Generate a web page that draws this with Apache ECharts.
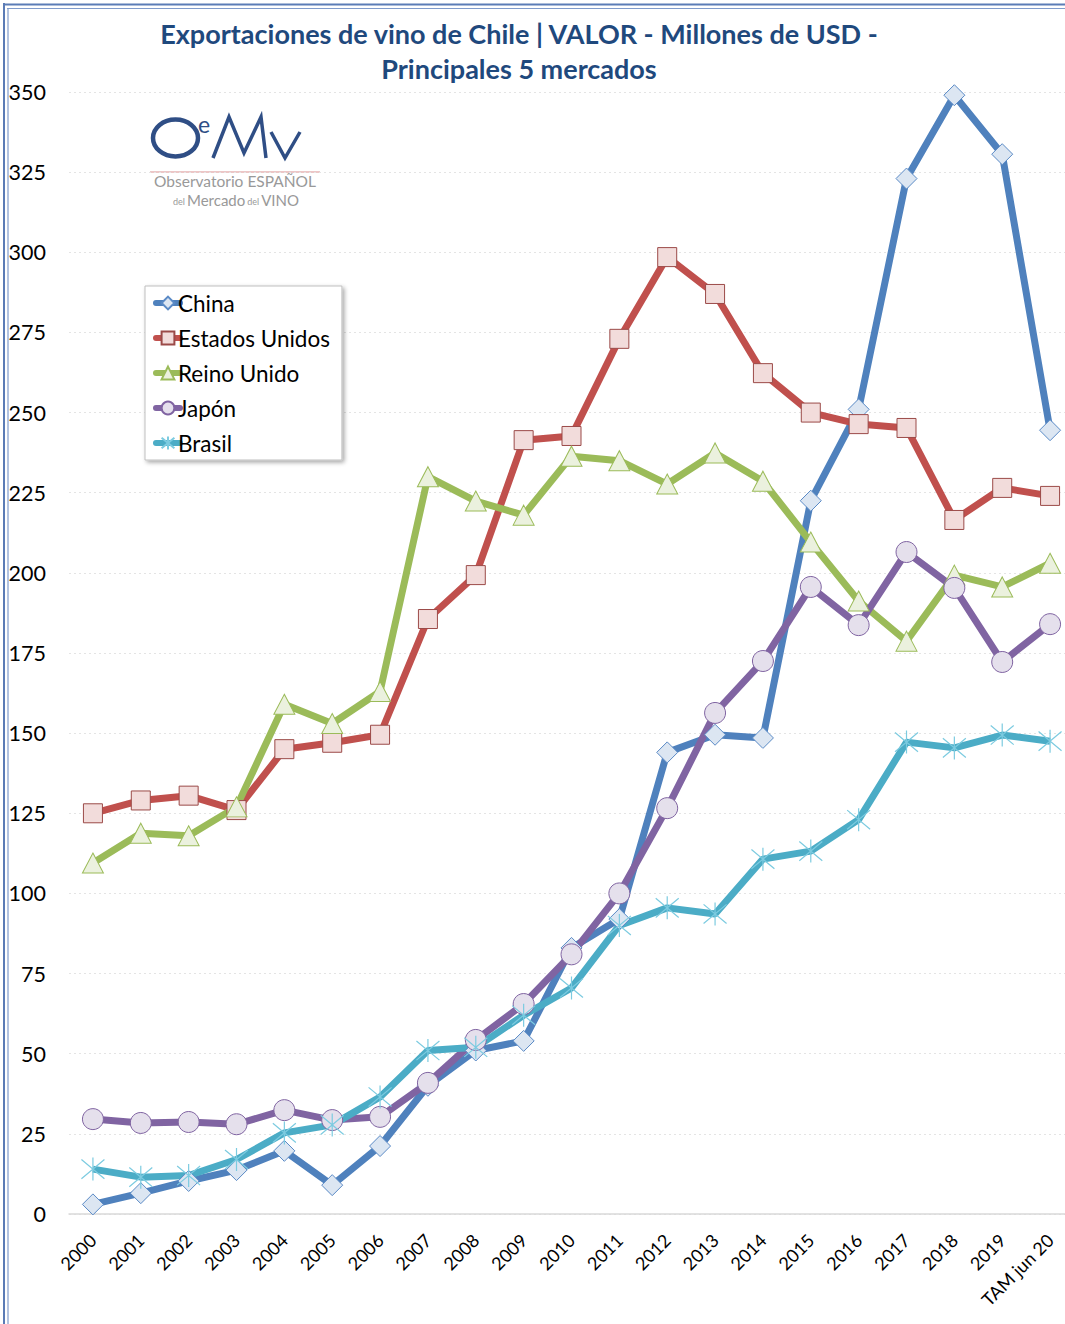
<!DOCTYPE html>
<html>
<head>
<meta charset="utf-8">
<script src="https://cdn.jsdelivr.net/npm/echarts@6/dist/echarts.min.js"></script>
<style>
html,body{margin:0;padding:0;background:#fff;overflow:hidden;width:1065px;height:1324px;}
#chart{width:1074px;height:1324px;}
</style>
</head>
<body>
<div id="chart"></div>
<script>
const categories = ['2000','2001','2002','2003','2004','2005','2006','2007','2008','2009','2010','2011','2012','2013','2014','2015','2016','2017','2018','2019','TAM jun 20'];
const yTicks = [0,25,50,75,100,125,150,175,200,225,250,275,300,325,350];
const china =        [3, 6.5, 10.3, 13.7, 19.7, 9, 21.2, 40, 51, 54, 83, 92, 144, 149.5, 148.5, 222.5, 251, 323, 349, 330.6, 244.5];
const estadosUnidos = [125, 129, 130.5, 126, 145, 147, 149.5, 185.6, 199.3, 241.4, 242.7, 273, 298.5, 287, 262.3, 250, 246.4, 245.2, 216.5, 226.5, 224];
const reinoUnido =   [109.5, 118.8, 118, 127, 159, 153, 163, 230, 222.4, 218, 236.4, 235, 227.7, 237.4, 228.6, 209.6, 191.2, 178.7, 199.3, 195.6, 203];
const japon =        [29.6, 28.4, 28.7, 28, 32.4, 29.3, 30.3, 40.9, 54.3, 65.5, 81, 100, 126.6, 156.3, 172.5, 195.6, 183.7, 206.5, 195.3, 172.2, 184];
const brasil =       [14, 11.5, 12, 17, 25.3, 27.8, 36.5, 51, 52, 62, 70.5, 90, 95.5, 93.6, 110.7, 113.2, 123, 147.2, 145.4, 149.4, 147.5];

const FONT = 'Lato, "Open Sans", sans-serif';
const chart = echarts.init(document.getElementById('chart'), null, {renderer: 'svg'});

function mk(name, data, lineColor, symbol, size, fill, border, bw) {
  return {
    name: name, type: 'line', data: data,
    symbol: symbol, symbolSize: size,
    lineStyle: {color: lineColor, width: 7},
    itemStyle: {color: fill, borderColor: border, borderWidth: bw},
    emphasis: {disabled: true},
    animation: false
  };
}

const star = 'path://M0,0L10,10M10,0L0,10M5,-1L5,11';

const option = {
  backgroundColor: '#fff',
  title: {
    text: 'Exportaciones de vino de Chile | VALOR - Millones de USD -\nPrincipales 5 mercados',
    left: 514, top: 11, textAlign: 'center',
    textStyle: {fontFamily: FONT, fontSize: 27, fontWeight: 'bold', color: '#1f497d', lineHeight: 35}
  },
  legend: {
    orient: 'vertical', left: 145, top: 286,
    padding: [5, 12, 5, 8], itemGap: 11,
    itemWidth: 24, itemHeight: 16,
    backgroundColor: '#fff', borderColor: '#bfbfbf', borderWidth: 1,
    shadowBlur: 4, shadowColor: 'rgba(0,0,0,0.35)', shadowOffsetX: 2, shadowOffsetY: 2,
    lineStyle: {width: 6, cap: 'round'},
    textStyle: {fontFamily: FONT, fontSize: 22.5, color: '#000', lineHeight: 24, padding: [0,0,0,-7]},
    data: ['China','Estados Unidos','Reino Unido','Japón','Brasil']
  },
  grid: {left: 69, right: 0, top: 92, bottom: 110, containLabel: false},
  xAxis: {
    type: 'category', data: categories, boundaryGap: true,
    axisLine: {lineStyle: {color: '#d9d9d9', width: 1.5}},
    axisTick: {show: false},
    axisLabel: {rotate: 45, fontFamily: FONT, fontSize: 18, color: '#000', margin: 23, interval: 0}
  },
  yAxis: {
    type: 'value', min: 0, max: 350, interval: 25,
    axisLine: {show: false}, axisTick: {show: false},
    axisLabel: {fontFamily: FONT, fontSize: 21.5, color: '#000', margin: 23,
      formatter: function(v){ return yTicks.indexOf(v) >= 0 ? String(v) : ''; }},
    splitLine: {lineStyle: {color: '#e4e4e4', type: [2, 3], width: 1}}
  },
  series: [
    mk('China', china, '#4f81bd', 'diamond', [21, 21], '#dce6f2', '#5a8ac6', 1),
    mk('Estados Unidos', estadosUnidos, '#c0504d', 'rect', 19, '#f2dcdb', '#9b4a48', 1),
    mk('Reino Unido', reinoUnido, '#9bbb59', 'triangle', [21, 20], '#ebf1de', '#9bbb59', 1),
    mk('Japón', japon, '#8064a2', 'circle', 21, '#e5e0ec', '#8064a2', 1),
    mk('Brasil', brasil, '#4bacc6', star, 23, 'none', '#7ccbe0', 1.2)
  ],
  graphic: [
    {type: 'line', shape: {x1: 3, y1: 4.5, x2: 1074, y2: 4.5}, style: {stroke: '#5b7cb6', lineWidth: 2}, silent: true},
    {type: 'line', shape: {x1: 7, y1: 8.5, x2: 1074, y2: 8.5}, style: {stroke: '#7f9bcb', lineWidth: 1.2}, silent: true},
    {type: 'line', shape: {x1: 4, y1: 3, x2: 4, y2: 1324}, style: {stroke: '#5b7cb6', lineWidth: 2}, silent: true},
    {type: 'line', shape: {x1: 8, y1: 8, x2: 8, y2: 1324}, style: {stroke: '#7f9bcb', lineWidth: 1.2}, silent: true},
    {type: 'ellipse', shape: {cx: 175.5, cy: 138, rx: 22.5, ry: 18.5}, style: {fill: 'none', stroke: '#2f4e85', lineWidth: 4.5}, silent: true},
    {type: 'text', x: 198, y: 112, style: {text: 'e', fontFamily: FONT, fontSize: 23, fill: '#2f4e85'}, silent: true},
    {type: 'polyline', shape: {points: [[213,158],[229,117],[244,153],[261,117],[266,158]]}, style: {fill: 'none', stroke: '#2f4e85', lineWidth: 3.5}, silent: true},
    {type: 'polyline', shape: {points: [[271,132],[285,158],[300,132]]}, style: {fill: 'none', stroke: '#2f4e85', lineWidth: 3.5}, silent: true},
    {type: 'line', shape: {x1: 150, y1: 172, x2: 320, y2: 172}, style: {stroke: '#e6b4b4', lineWidth: 1.5}, silent: true},
    {type: 'text', x: 235, y: 173, style: {text: 'Observatorio ESPAÑOL', align: 'center', fontFamily: FONT, fontSize: 15.5, fill: '#999'}, silent: true},
    {type: 'text', x: 235, y: 192, style: {
      text: '{s|del}Mercado{s|del}VINO',
      align: 'center', fontFamily: FONT, fontSize: 15, fill: '#999',
      rich: {s: {fontFamily: FONT, fontSize: 9, fill: '#999', padding: [3, 2, 0, 2]}}}, silent: true}
  ]
};
chart.setOption(option);
</script>
</body>
</html>
